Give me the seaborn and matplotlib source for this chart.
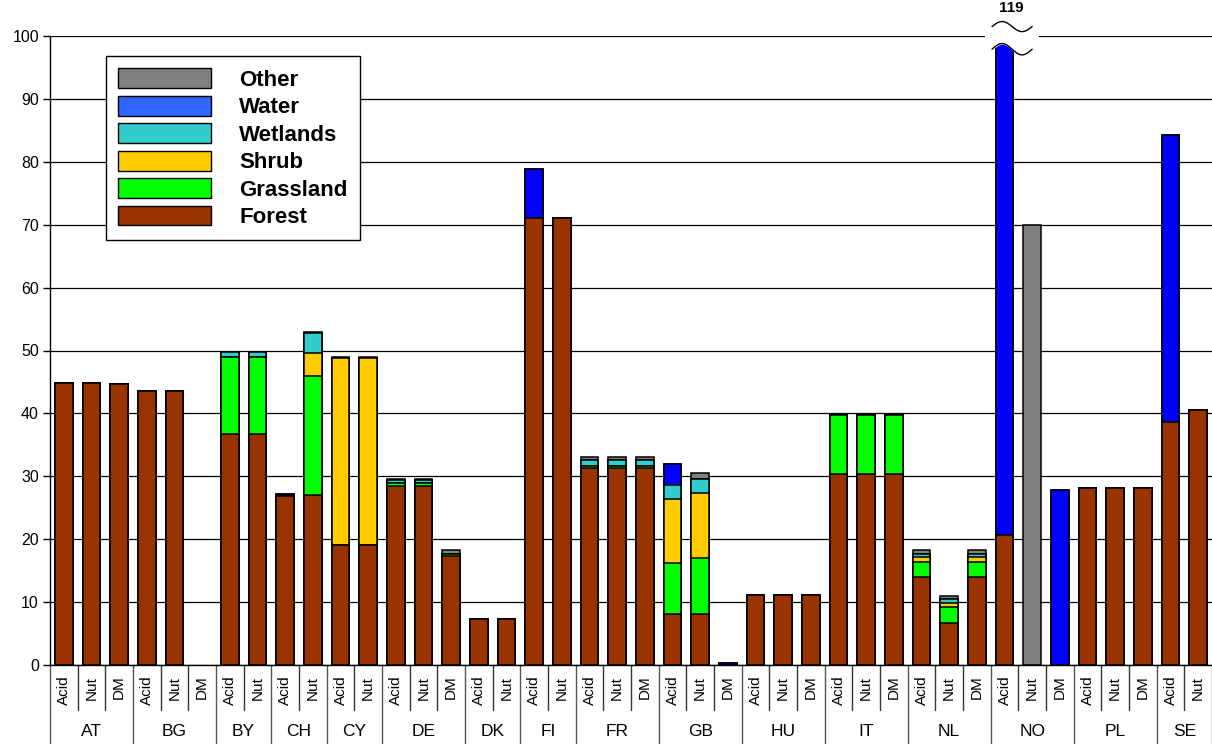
import numpy as np
import pandas as pd
import seaborn as sns
import matplotlib.pyplot as plt
from matplotlib.patches import Patch

# countries and the indicators shown for each
countries = ['AT', 'BG', 'BY', 'CH', 'CY', 'DE', 'DK', 'FI', 'FR', 'GB', 'HU', 'IT', 'NL', 'NO', 'PL', 'SE']
indicators = [['Acid', 'Nut', 'DM'], ['Acid', 'Nut', 'DM'], ['Acid', 'Nut'], ['Acid', 'Nut'], ['Acid', 'Nut'],
              ['Acid', 'Nut', 'DM'], ['Acid', 'Nut'], ['Acid', 'Nut'], ['Acid', 'Nut', 'DM'], ['Acid', 'Nut', 'DM'],
              ['Acid', 'Nut', 'DM'], ['Acid', 'Nut', 'DM'], ['Acid', 'Nut', 'DM'], ['Acid', 'Nut', 'DM'],
              ['Acid', 'Nut', 'DM'], ['Acid', 'Nut']]

# values per land cover class, one per bar (same order as above)
forest = [44.8, 44.8, 44.7, 43.6, 43.6, 0, 36.7, 36.7, 26.8, 27.0, 19.1, 19.1, 28.5, 28.5, 17.4, 7.3, 7.3,
          71.0, 71.0, 31.3, 31.3, 31.3, 8.1, 8.1, 0, 11.2, 11.2, 11.2, 30.4, 30.4, 30.4, 14.0, 6.7, 14.0,
          20.6, 0, 0, 28.2, 28.2, 28.2, 38.6, 40.5]
grassland = [0, 0, 0, 0, 0, 0, 12.3, 12.3, 0, 18.9, 0, 0, 0.5, 0.5, 0.3, 0, 0,
             0, 0, 0.3, 0.3, 0.3, 8.1, 8.9, 0, 0, 0, 0, 9.4, 9.4, 9.4, 2.4, 2.5, 2.4,
             0, 0, 0, 0, 0, 0, 0, 0]
shrub = [0, 0, 0, 0, 0, 0, 0, 0, 0, 3.7, 29.7, 29.7, 0, 0, 0, 0, 0,
         0, 0, 0, 0, 0, 10.2, 10.3, 0, 0, 0, 0, 0, 0, 0, 0.8, 0.7, 0.8,
         0, 0, 0, 0, 0, 0, 0, 0]
wetlands = [0, 0, 0, 0, 0, 0, 0.8, 0.8, 0, 3.2, 0, 0, 0.4, 0.4, 0, 0, 0,
            0, 0, 1.0, 1.0, 1.0, 2.2, 2.3, 0, 0, 0, 0, 0, 0, 0, 0.5, 0.6, 0.5,
            0, 0, 0, 0, 0, 0, 0, 0]
water = [0, 0, 0, 0, 0, 0, 0, 0, 0.4, 0, 0, 0, 0, 0, 0, 0, 0,
         7.9, 0, 0, 0, 0, 3.4, 0, 0.3, 0, 0, 0, 0, 0, 0, 0, 0, 0,
         98.4, 0, 27.8, 0, 0, 0, 45.6, 0]
other = [0, 0, 0, 0, 0, 0, 0, 0, 0, 0.2, 0.2, 0.2, 0.2, 0.2, 0.6, 0, 0,
         0, 0, 0.5, 0.5, 0.5, 0, 0.9, 0, 0, 0, 0, 0, 0, 0, 0.6, 0.5, 0.6,
         0, 70.0, 0, 0, 0, 0, 0, 0]

classes = ['Forest', 'Grassland', 'Shrub', 'Wetlands', 'Water', 'Other']
bar_colors = ['#993300', '#00FF00', '#FFCC00', '#33CCCC', '#0000FF', '#808080']
legend_colors = ['#993300', '#00FF00', '#FFCC00', '#33CCCC', '#3366FF', '#808080']

bars = [f'{c} {i}' for c, subs in zip(countries, indicators) for i in subs]
df = pd.DataFrame({'bar': bars, 'Forest': forest, 'Grassland': grassland, 'Shrub': shrub,
                   'Wetlands': wetlands, 'Water': water, 'Other': other})
# cumulative heights for stacking (draw tallest first), empty bars left out
cum = df[classes].cumsum(axis=1)
for c in classes:
    df['cum_' + c] = cum[c].where(cum[c] > 0)

sns.set_style('white')
plt.rcParams['font.family'] = ['Liberation Sans', 'DejaVu Sans']
plt.rcParams['text.color'] = 'black'
plt.rcParams['ytick.color'] = 'black'
plt.rcParams['xtick.color'] = 'black'

fig = plt.figure(figsize=(12.12, 7.44), dpi=100)
ax = fig.add_axes([50 / 1212, 1 - 665 / 744, 1162 / 1212, 629 / 744])

for c, col in reversed(list(zip(classes, bar_colors))):
    sns.barplot(data=df, x='bar', y='cum_' + c, order=bars, color=col, saturation=1,
                width=0.64, edgecolor='black', linewidth=1.1, errorbar=None, ax=ax, zorder=2)

ax.set_ylim(0, 100)
ax.set_xlim(-0.5, len(bars) - 0.5)
ax.set_yticks(np.arange(0, 101, 10))
ax.tick_params(axis='y', labelsize=11.5, length=5, width=1, color='black', labelcolor='black', left=True, pad=3)
ax.tick_params(axis='x', bottom=False, labelbottom=False)
ax.set_xlabel('')
ax.set_ylabel('')
ax.yaxis.grid(True, color='black', linewidth=0.9)
ax.set_axisbelow(True)
for s in ['top', 'right']:
    ax.spines[s].set_visible(False)
for s in ['left', 'bottom']:
    ax.spines[s].set_color('black')
    ax.spines[s].set_linewidth(1)

# category labels under the axis
tr = ax.get_xaxis_transform()
pos = 0
ax.plot([-0.5, -0.5], [0, -0.13], color='#555555', lw=1, transform=tr, clip_on=False)
for c, subs in zip(countries, indicators):
    for k, s in enumerate(subs):
        ax.text(pos + k, -0.017, s, rotation=90, ha='center', va='top', fontsize=11,
                color='black', transform=tr)
        if k > 0:
            ax.plot([pos + k - 0.5] * 2, [0, -0.0715], color='#333333', lw=1, transform=tr, clip_on=False)
    ax.text(pos + (len(subs) - 1) / 2, -0.1065, c, ha='center', va='center', fontsize=12.5,
            color='black', transform=tr)
    pos += len(subs)
    ax.plot([pos - 0.5] * 2, [0, -0.13], color='#555555', lw=1, transform=tr, clip_on=False)

# axis break on the NO Acid bar (value 119)
xb = np.linspace(33.3, 35.2, 100)
xw = np.linspace(33.55, 35.0, 100)
ph = 2 * np.pi * (xb - 33.55) / 1.45
pw = 2 * np.pi * (xw - 33.55) / 1.45
ax.fill_between(xb, 97.9 + 0.9 * np.sin(ph), 101.5 + 0.8 * np.sin(ph), color='white', zorder=5, clip_on=False)
ax.plot(xw, 97.9 + 0.9 * np.sin(pw), color='black', lw=1, zorder=6, clip_on=False)
ax.plot(xw, 101.5 + 0.8 * np.sin(pw), color='black', lw=1, zorder=6, clip_on=False)
ax.text(34.25, 103.3, '119', ha='center', va='bottom', fontsize=11, fontweight='bold')

handles = [Patch(facecolor=col, edgecolor='black', linewidth=1, label=c)
           for c, col in zip(classes, legend_colors)][::-1]
leg = ax.legend(handles=handles, loc='upper left', bbox_to_anchor=(0.048, 0.968), borderaxespad=0,
                fancybox=False, framealpha=1, edgecolor='black', handlelength=4.2, handleheight=1.0,
                labelspacing=0.22, handletextpad=1.25, borderpad=0.55,
                prop={'weight': 'bold', 'size': 16})
leg.get_frame().set_linewidth(1)
for t in leg.get_texts():
    t.set_color('black')

fig.savefig('out.png', dpi=100)
